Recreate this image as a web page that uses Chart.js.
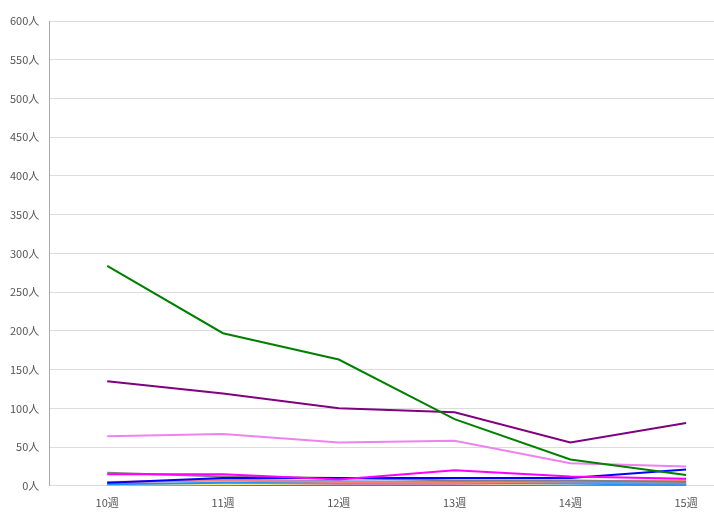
<!DOCTYPE html>
<html>
<head>
<meta charset="utf-8">
<script src="https://cdn.jsdelivr.net/npm/chart.js@4.4.1/dist/chart.umd.min.js"></script>
<style>
html,body{margin:0;padding:0;background:#fff;overflow:hidden;width:714px;height:526px;}
#wrap{position:absolute;left:0;top:0;width:744px;height:526px;}
</style>
</head>
<body>
<div id="wrap"><canvas id="c" width="744" height="526"></canvas></div>
<script>
const weeks = ["10週","11週","12週","13週","14週","15週"];
const yTicksMax = 600;
const yTickStep = 50;
const greenSeries   = [284, 197, 163, 86, 34, 14];
const purpleSeries  = [135, 119, 100, 95, 56, 81];
const violetSeries  = [64, 67, 56, 58, 29, 25];
const magentaSeries = [15, 15, 8, 20, 12, 9];
const graySeries    = [17, 12, 10, 7, 7, 5];
const blueSeries    = [4, 10, 10, 10, 10, 21];
const salmonSeries  = [5, 7, 5, 4, 6, 7];
const cornSeries    = [4, 8, 6, 5, 4, 3];
const dodgerSeries  = [2, 4, 4, 4, 3, 1];
const khakiSeries   = [1, 2, 3, 3, 2, 2];
const orchidSeries  = [1, 1, 2, 2, 2, 2];
const redSeries     = [0, 0, 1, 1, 1, 1];

const seriesList = [
  {data: greenSeries, color: "#008000"},
  {data: purpleSeries, color: "#800080"},
  {data: violetSeries, color: "#EE82EE"},
  {data: magentaSeries, color: "#FF00FF"},
  {data: blueSeries, color: "#0000FF"},
  {data: graySeries, color: "#808080"},
  {data: salmonSeries, color: "#FA8072"},
  {data: cornSeries, color: "#6495ED"},
  {data: dodgerSeries, color: "#1E90FF"},
  {data: khakiSeries, color: "#F0E68C"},
  {data: orchidSeries, color: "#9932CC"},
  {data: redSeries, color: "#DC143C"}
];

new Chart(document.getElementById("c"), {
  type: "line",
  data: {
    labels: weeks,
    datasets: seriesList.map(s => ({
      data: s.data,
      borderColor: s.color,
      backgroundColor: s.color,
      borderWidth: 2,
      pointRadius: 0,
      tension: 0,
      fill: false
    }))
  },
  options: {
    responsive: false,
    animation: false,
    layout: {padding: {left: 0, right: 0, top: 21, bottom: 7}},
    plugins: {legend: {display: false}, tooltip: {enabled: false}},
    scales: {
      x: {
        offset: true,
        grid: {display: false, drawTicks: false},
        border: {display: false},
        ticks: {color: "#555", font: {family: "'Noto Sans CJK JP', 'Noto Sans', sans-serif", size: 11}, padding: 10, maxRotation: 0}
      },
      y: {
        min: 0, max: yTicksMax,
        grid: {color: "#dcdcdc", drawTicks: false},
        border: {display: true, color: "#a8a8a8"},
        ticks: {stepSize: yTickStep, color: "#555", padding: 10,
          font: {family: "'Noto Sans CJK JP', 'Noto Sans', sans-serif", size: 11},
          callback: v => v + "人"}
      }
    }
  }
});
</script>
</body>
</html>
